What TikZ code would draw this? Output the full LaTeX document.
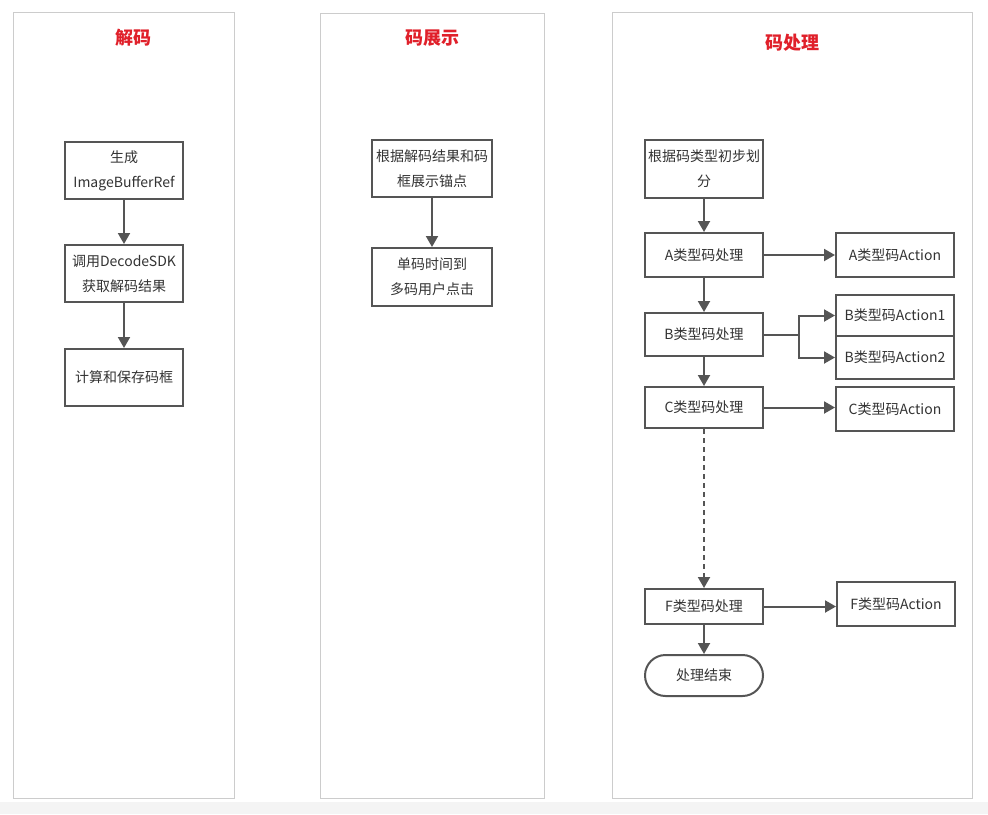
\documentclass[tikz,border=0pt]{standalone}
\usepackage{fontspec}
\setmainfont{Noto Sans CJK SC}
\usetikzlibrary{arrows.meta,shapes.misc}
\definecolor{lane}{HTML}{CCCCCC}
\definecolor{ln}{HTML}{555555}
\definecolor{txt}{HTML}{333333}
\definecolor{ttl}{HTML}{E0202A}
\definecolor{bgband}{HTML}{F4F4F4}
\tikzset{
  panel/.style={draw=lane,line width=1pt,fill=white},
  ttlnode/.style={text=ttl,font=\fontsize{18}{20}\selectfont\bfseries},
  box/.style={draw=ln,line width=2pt,fill=white,text=txt,align=center,
    font=\fontsize{14}{25}\selectfont,inner sep=0pt},
  term/.style={box,rounded rectangle},
  conn/.style={draw=ln,line width=2pt,-{Triangle[length=11pt,width=12pt]}},
  plain/.style={draw=ln,line width=2pt},
}
\begin{document}
\begin{tikzpicture}[x=1pt,y=-1pt]
\useasboundingbox (0,0) rectangle (988,814);
\fill[bgband] (0,802) rectangle (988,814);
% panels
\draw[panel] (13,12) rectangle (234,798);
\draw[panel] (320,13) rectangle (544,798);
\draw[panel] (612,12) rectangle (972,798);
\node[ttlnode] (t1) at (133,38) {解码};
\node[ttlnode] (t2) at (432,38) {码展示};
\node[ttlnode] (t3) at (792,43) {码处理};
% panel 1
\node[box,minimum width=118pt,minimum height=57pt] (a1) at (124,170.5) {生成\\ImageBufferRef};
\node[box,minimum width=118pt,minimum height=57pt] (a2) at (124,273.5) {调用DecodeSDK\\获取解码结果};
\node[box,minimum width=118pt,minimum height=57pt] (a3) at (124,377.5) {计算和保存码框};
\draw[conn] (a1) -- (a2);
\draw[conn] (a2) -- (a3);
% panel 2
\node[box,minimum width=120pt,minimum height=57pt] (b1) at (432,168.5) {根据解码结果和码\\框展示锚点};
\node[box,minimum width=120pt,minimum height=58pt] (b2) at (432,277) {单码时间到\\多码用户点击};
\draw[conn] (b1) -- (b2);
% panel 3
\node[box,minimum width=118pt,minimum height=58pt] (c0) at (704,169) {根据码类型初步划\\分};
\node[box,minimum width=118pt,minimum height=44pt] (cA) at (704,255) {A类型码处理};
\node[box,minimum width=118pt,minimum height=43pt] (cB) at (704,334.5) {B类型码处理};
\node[box,minimum width=118pt,minimum height=41pt] (cC) at (704,407.5) {C类型码处理};
\node[box,minimum width=118pt,minimum height=35pt] (cF) at (704,606.5) {F类型码处理};
\node[term,minimum width=118pt,minimum height=41pt] (cE) at (704,675.5) {处理结束};
\node[box,minimum width=118pt,minimum height=44pt] (dA) at (895,255) {A类型码Action};
\node[box,minimum width=118pt,minimum height=41pt] (dB1) at (895,315.5) {B类型码Action1};
\node[box,minimum width=118pt,minimum height=43pt] (dB2) at (895,357.5) {B类型码Action2};
\node[box,minimum width=118pt,minimum height=44pt] (dC) at (895,409) {C类型码Action};
\node[box,minimum width=118pt,minimum height=44pt] (dF) at (896,604) {F类型码Action};
\draw[conn] (c0) -- (cA);
\draw[conn] (cA) -- (cB);
\draw[conn] (cB) -- (cC);
\draw[conn,dashed,dash pattern=on 5pt off 4pt] (cC) -- (cF);
\draw[conn] (cF) -- (cE);
\draw[conn] (cA) -- (dA);
\coordinate (bj) at (799,334.5);
\draw[plain] (cB.east) -- (bj);
\draw[conn] (bj) |- (dB1.west);
\draw[conn] (bj) |- (dB2.west);
\draw[conn] (cC.east) -- (cC.east -| dC.west);
\draw[conn] (cF.east) -- (cF.east -| dF.west);
\end{tikzpicture}
\end{document}
